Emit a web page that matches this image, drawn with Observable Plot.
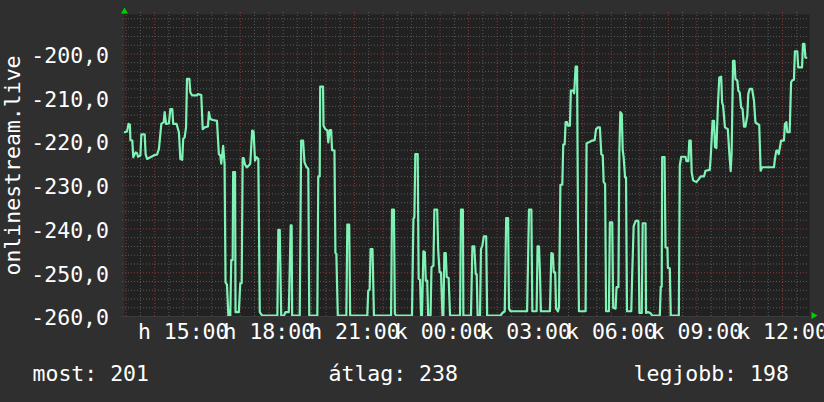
<!DOCTYPE html>
<html>
<head>
<meta charset="utf-8">
<script src="https://cdn.jsdelivr.net/npm/d3@7"></script>
<script src="https://cdn.jsdelivr.net/npm/@observablehq/plot@0.6"></script>
<style>
  html, body { margin: 0; padding: 0; background: #2f2f2f; }
  #chart { width: 824px; height: 402px; overflow: hidden; }
</style>
</head>
<body>
<div id="chart"></div>
<script>
// time in minutes since Monday 00:00 (15:00 = 900, Tuesday 12:00 = 2160)
const times = [
  777,782,785,788,789,793,795,800,803,805,810,812,819,821,824,831,838,845,849,854,
  859,861,864,870,873,877,879,886,891,894,898,900,903,906,908,913,915,919,928,931,
  938,941,945,952,954,957,963,971,975,978,980,984,987,989,992,995,999,1001,1004,1005,
  1009,1010,1017,1020,1023,1025,1027,1030,1034,1038,1041,1045,1048,1051,1054,1058,1061,1066,1098,1100,
  1103,1106,1112,1115,1122,1126,
  1128,1129,1145,1148,1152,1155,1159,1163,1165,1182,1184,1187,1188,1194,1195,1199,1203,1205,1208,1211,
  1213,1218,1220,1222,1225,1243,1245,1249,1251,1287,1289,1292,1294,1298,1301,1337,1339,1343,1345,1348,
  1381,1384,1386,1388,1393,1395,1398,1400,1402,1405,1408,1410,1413,1415,1420,1422,1426,1428,1434,1436,
  1439,1442,1445,1447,1449,1452,1454,1458,1461,1482,1484,
  1488,1489,1505,1508,1512,1515,1517,1519,1524,1526,1529,1532,1537,1539,1567,1571,1576,1579,1583,1585,
  1588,1623,1627,1632,1634,1643,1645,1648,1650,1652,1671,1674,1677,1679,1682,1684,1688,1690,1693,1697,
  1699,1702,1704,1707,1709,1713,1715,1720,1722,1725,1728,1730,1732,1746,1748,1753,1760,1765,1768,1772,
  1776,1779,1782,1784,1787,1789,1795,1797,1802,1804,1809,1811,1815,1817,1819,1822,1824,1826,1829,1831,
  1833,1842,1844,1847,
  1851,1854,1857,1859,1864,1866,1872,1873,1877,1882,1886,1902,1904,1906,1907,1912,1914,1918,1919,1923,
  1925,1942,1944,1947,1956,1958,1962,1964,1967,1969,1972,1979,1984,1988,1995,1998,2007,2009,2013,2016,
  2018,2021,2024,2027,2031,2033,2035,2039,2045,2048,2051,2053,2056,2059,2061,2065,2067,2070,2073,2076,
  2079,2082,2086,2088,2091,2096,2100,2103,2107,2111,2114,2117,2142,2144,2147,2150,2152,2154,2157,2163,
  2165,2168,2170,2175,2178,2180,2184,2186,2191,2193,2201,2203,2206,2208,2210
];
const ranks = [
  -217.9,-217.7,-216.0,-216.2,-219.7,-219.8,-223.6,-222.5,-222.7,-223.5,-223.2,-218.4,-218.4,-222.9,-224.0,-223.6,-223.2,-223.0,-221.7,-216.0,
  -215.6,-213.3,-216.0,-215.9,-212.6,-212.6,-216.0,-216.0,-217.9,-224.0,-224.2,-219.4,-219.1,-216.8,-205.7,-205.7,-208.8,-209.5,-209.5,-209.2,
  -209.4,-217.2,-216.8,-216.6,-213.3,-214.9,-215.1,-215.3,-222.9,-223.2,-225.1,-221.0,-225.1,-252.2,-252.7,-259.8,-259.8,-247.1,-247.1,-227.0,
  -227.0,-259.0,-259.0,-252.4,-252.4,-223.8,-223.8,-225.3,-225.9,-225.5,-225.1,-217.5,-217.7,-224.4,-223.6,-224.0,-259.0,-259.8,-259.8,-240.2,
  -240.2,-259.8,-259.8,-259.0,-259.0,-239.2,
  -239.2,-259.8,-259.8,-219.8,-219.8,-224.8,-225.8,-226.3,-259.8,-259.8,-228.0,-228.0,-207.5,-207.5,-216.4,-217.2,-217.5,-220.2,-217.4,-217.4,
  -222.0,-222.1,-245.5,-245.7,-259.8,-259.8,-239.0,-239.0,-259.8,-259.8,-254.1,-253.9,-244.6,-244.6,-259.8,-259.8,-235.6,-235.6,-259.4,-259.8,
  -259.8,-237.7,-237.3,-222.9,-222.9,-251.4,-251.6,-259.8,-259.8,-245.1,-245.3,-251.8,-251.8,-259.8,-259.8,-248.7,-248.4,-235.6,-235.6,-244.6,
  -249.9,-249.9,-259.8,-259.8,-245.5,-245.5,-251.0,-251.2,-259.8,-259.8,-235.6,
  -235.6,-259.8,-259.8,-244.0,-244.0,-250.3,-250.3,-259.8,-259.8,-244.6,-243.8,-241.7,-241.7,-259.8,-259.8,-259.2,-258.8,-237.5,-237.5,-258.2,
  -258.8,-258.8,-235.6,-235.6,-258.8,-258.8,-244.0,-244.0,-249.9,-258.8,-258.8,-245.5,-245.7,-249.9,-249.9,-258.2,-258.8,-257.9,-229.9,-229.9,
  -220.7,-220.7,-215.6,-215.6,-216.4,-216.4,-208.4,-208.4,-209.0,-202.9,-202.9,-238.8,-258.8,-258.8,-220.4,-220.2,-219.8,-219.7,-217.2,-216.8,
  -216.8,-222.9,-223.2,-229.3,-229.7,-258.8,-258.8,-238.5,-238.5,-258.0,-258.2,-253.3,-253.3,-222.1,-213.3,-213.7,-222.0,-223.6,-228.2,-228.2,
  -258.8,-258.8,-250.3,-239.4,
  -238.2,-238.1,-238.2,-259.2,-259.2,-238.7,-238.7,-259.2,-259.0,-259.2,-259.8,-259.8,-253.2,-253.2,-223.6,-223.6,-244.2,-244.3,-248.9,-249.0,
  -259.8,-259.8,-225.5,-223.5,-223.5,-224.5,-224.5,-219.8,-219.8,-227.0,-228.9,-229.3,-228.6,-228.0,-228.0,-226.7,-226.5,-223.6,-215.3,-215.3,
  -221.3,-221.5,-212.2,-205.4,-205.2,-211.1,-211.8,-216.8,-217.2,-222.5,-226.8,-222.7,-201.6,-201.6,-205.7,-206.1,-208.4,-208.8,-212.2,-212.6,
  -216.6,-216.6,-214.1,-209.2,-208.0,-208.0,-210.7,-215.6,-216.0,-216.2,-226.7,-225.9,-225.9,-224.0,-222.1,-222.1,-222.9,-221.7,-219.8,-219.8,
  -216.0,-215.6,-217.9,-217.9,-206.5,-206.1,-205.9,-199.4,-199.4,-203.1,-203.1,-197.7,-197.7,-200.8,-200.9
];

const xDomain = [776.6, 2216.7];
const yDomain = [-260, -191];
const xTicks = [900, 1080, 1260, 1440, 1620, 1800, 1980, 2160];
const xLabels = ["h 15:00", "h 18:00", "h 21:00", "k 00:00", "k 03:00", "k 06:00", "k 09:00", "k 12:00"];
const yTicks = [-260, -250, -240, -230, -220, -210, -200];
const yTitle = "onlinestream.live";
const legendLabels = ["most: 201", "átlag: 238", "legjobb: 198"];

const data = times.map((t, i) => ({t, v: ranks[i]}));
const labelOf = new Map(xTicks.map((t, i) => [t, xLabels[i]]));

const halfHours = d3.range(780, xDomain[1], 30);
const xMajor = halfHours.filter(d => d % 60 === 0);
const xMinor = halfHours.filter(d => d % 60 !== 0);
const yAll = d3.range(-258, -190, 2);
const yMinor = yAll.filter(d => d % 10 !== 0);
const yMajor = yAll.filter(d => d % 10 === 0);

const font = "'DejaVu Sans Mono', monospace";
const fs = 21.5;

const chart = Plot.plot({
  width: 824,
  height: 402,
  marginLeft: 124,
  marginRight: 15,
  marginTop: 14,
  marginBottom: 86,
  style: {background: "#2f2f2f", color: "#ffffff", fontFamily: font, fontSize: fs + "px"},
  x: {type: "linear", domain: xDomain, axis: null},
  y: {type: "linear", domain: yDomain, axis: null},
  marks: [
    Plot.frame({fill: "#212121", stroke: "none"}),
    Plot.ruleX(xMinor, {stroke: "#5a5a5a", strokeDasharray: "1,2", insetTop: -2, insetBottom: -2}),
    Plot.ruleY(yMinor, {stroke: "#5a5a5a", strokeDasharray: "1,2", insetLeft: -2}),
    Plot.ruleX(xMajor, {stroke: "#8c3838", strokeDasharray: "1,2", insetTop: -2, insetBottom: -2}),
    Plot.ruleY(yMajor, {stroke: "#8c3838", strokeDasharray: "1,2", insetLeft: -2}),
    Plot.ruleY([-260], {stroke: "#3c3c3c", strokeWidth: 1, insetLeft: -3}),
    Plot.axisY(yTicks, {
      label: null,
      tickFormat: d => d.toFixed(1).replace(".", ","),
      tickSize: 0, tickPadding: 15.5, dy: 2, fontSize: fs, fill: "#ffffff"
    }),
    Plot.axisX(xTicks, {
      label: null,
      tickFormat: d => labelOf.get(d),
      tickSize: 0, tickPadding: 7.5, fontSize: fs, fill: "#ffffff"
    }),
    Plot.line(data, {x: "t", y: "v", stroke: "#7ff2b6", strokeWidth: 2.2, clip: true}),
    Plot.dot([xDomain[0]], {x: d => d, y: () => yDomain[1], symbol: "triangle", r: 2.6, fill: "#00d000", stroke: "none", dy: -3}),
    Plot.dot([xDomain[1]], {x: d => d, y: () => yDomain[0], symbol: "triangle", r: 2.6, fill: "#00d000", stroke: "none", dx: 4, dy: -1, rotate: 90}),
    Plot.text([yTitle], {text: d => d, frameAnchor: "left", dx: -111, rotate: -90, lineAnchor: "middle", textAnchor: "middle", fontSize: fs, fill: "#ffffff"}),
    Plot.text([legendLabels[0]], {text: d => d, frameAnchor: "bottom-left", textAnchor: "start", lineAnchor: "middle", dx: -92, dy: 58, fontSize: fs, fill: "#ffffff"}),
    Plot.text([legendLabels[1]], {text: d => d, frameAnchor: "bottom-left", textAnchor: "start", lineAnchor: "middle", dx: 204, dy: 58, fontSize: fs, fill: "#ffffff"}),
    Plot.text([legendLabels[2]], {text: d => d, frameAnchor: "bottom-left", textAnchor: "start", lineAnchor: "middle", dx: 509, dy: 58, fontSize: fs, fill: "#ffffff"})
  ]
});
document.getElementById("chart").appendChild(chart);
</script>
</body>
</html>
